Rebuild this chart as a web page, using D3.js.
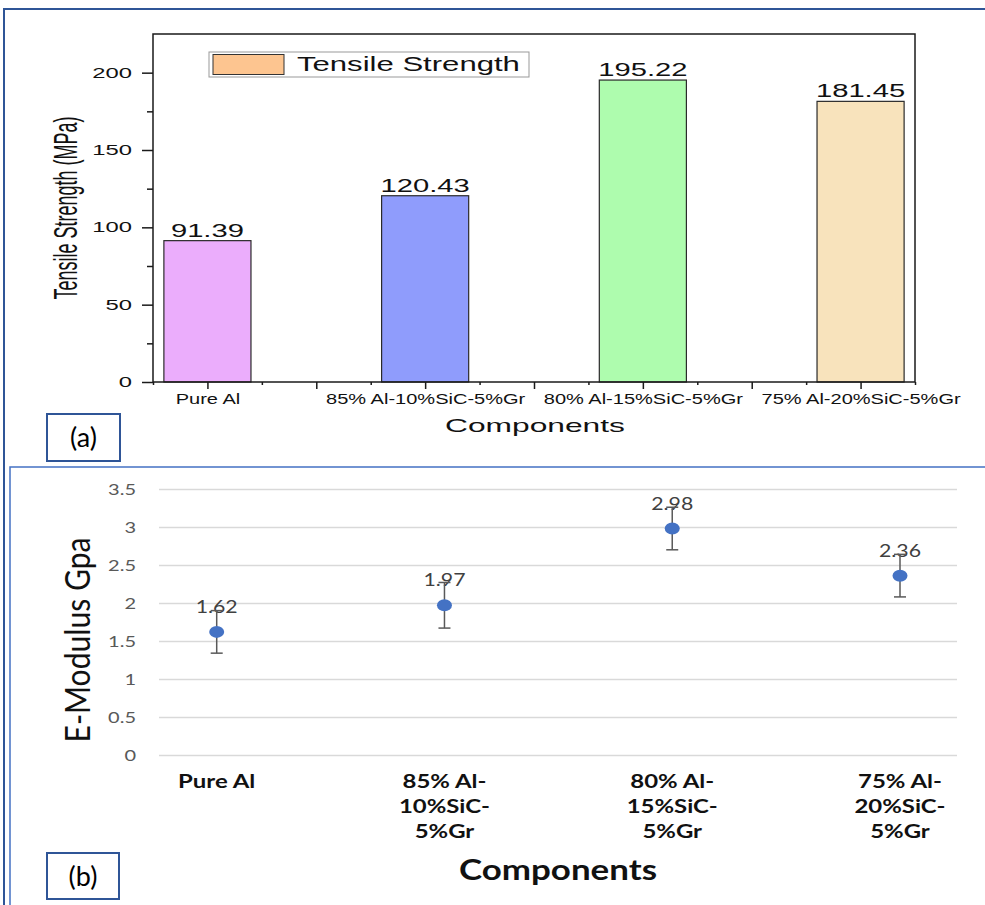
<!DOCTYPE html>
<html>
<head>
<meta charset="utf-8">
<script src="https://cdn.jsdelivr.net/npm/d3@7"></script>
<style>
  body { margin: 0; background: #fff; }
  .pa text { font-family: "Liberation Sans", Arial, sans-serif; fill: #111; }
  .pb text { font-family: Lato, "Open Sans", sans-serif; }
</style>
</head>
<body>
<svg id="chart" width="985" height="905"></svg>
<script>
// ---- data ----
var components = ["Pure Al", "85% Al-10%SiC-5%Gr", "80% Al-15%SiC-5%Gr", "75% Al-20%SiC-5%Gr"];
var tensile = [91.39, 120.43, 195.22, 181.45];
var barColors = ["#ebadfc", "#8f9cfc", "#aefcae", "#f8e3bc"];
var tensileTicks = [0, 50, 100, 150, 200];
var tensileMinor = [25, 75, 125, 175];

var modulus = [1.62, 1.97, 2.98, 2.36];
var modulusErr = [0.28, 0.30, 0.28, 0.28];
var modulusTicks = [0, 0.5, 1, 1.5, 2, 2.5, 3, 3.5];
var modulusLabels = [["Pure Al"], ["85% Al-", "10%SiC-", "5%Gr"], ["80% Al-", "15%SiC-", "5%Gr"], ["75% Al-", "20%SiC-", "5%Gr"]];

var svg = d3.select("#chart");

// the source figure is stretched sideways, so widen text to match
function stretch(sel, k) {
  sel.each(function() {
    var w = this.getComputedTextLength();
    d3.select(this).attr("textLength", w * k).attr("lengthAdjust", "spacingAndGlyphs");
  });
}

// ---- outer frames ----
svg.append("path").attr("d", "M4,905V9H985")
  .attr("fill", "none").attr("stroke", "#2f5597").attr("stroke-width", 2);
svg.append("path").attr("d", "M10,905V467H985")
  .attr("fill", "none").attr("stroke", "#4472c4").attr("stroke-width", 1.5);

// ****************** (a) tensile strength bars ******************
var pa = svg.append("g").attr("class", "pa");
var x = d3.scaleLinear().domain([-0.25, 3.25]).range([153, 915]);
var y = d3.scaleLinear().domain([0, 225]).range([382, 34]);

pa.selectAll("rect.bar")
  .data(tensile)
  .enter().append("rect")
    .attr("class", "bar")
    .attr("x", function(d, i) { return x(i - 0.2); })
    .attr("width", x(0.4) - x(0))
    .attr("y", function(d) { return y(d); })
    .attr("height", function(d) { return y(0) - y(d); })
    .attr("fill", function(d, i) { return barColors[i]; })
    .attr("stroke", "#2a2a2a").attr("stroke-width", 1.2);

pa.selectAll("text.val")
  .data(tensile)
  .enter().append("text")
    .attr("class", "val")
    .attr("x", function(d, i) { return x(i); })
    .attr("y", function(d) { return y(d) - 4; })
    .attr("text-anchor", "middle")
    .style("font-size", "18px")
    .text(function(d) { return d.toFixed(2); })
    .call(stretch, 1.62);

// frame
pa.append("rect")
  .attr("x", x(-0.25)).attr("y", y(225))
  .attr("width", x(3.25) - x(-0.25)).attr("height", y(0) - y(225))
  .attr("fill", "none").attr("stroke", "#1a1a1a").attr("stroke-width", 1.5);

// y axis
var yAxis = pa.append("g")
  .attr("transform", "translate(" + x(-0.25) + ",0)")
  .call(d3.axisLeft(y).tickValues(tensileTicks).tickSize(11).tickPadding(10));
yAxis.select(".domain").remove();
yAxis.selectAll("line").attr("stroke", "#1a1a1a").attr("stroke-width", 1.5);
yAxis.selectAll("text").style("font-size", "14px").attr("fill", "#111").call(stretch, 1.7);

var yMinor = pa.append("g")
  .attr("transform", "translate(" + x(-0.25) + ",0)")
  .call(d3.axisLeft(y).tickValues(tensileMinor).tickSize(6).tickFormat(""));
yMinor.select(".domain").remove();
yMinor.selectAll("line").attr("stroke", "#1a1a1a").attr("stroke-width", 1.5);

// x axis
var xAxis = pa.append("g")
  .attr("transform", "translate(0," + y(0) + ")")
  .call(d3.axisBottom(x).tickValues([0, 0.5, 1, 1.5, 2, 2.5, 3]).tickSize(7).tickPadding(5)
    .tickFormat(function(d) { return Number.isInteger(d) ? components[d] : ""; }));
xAxis.select(".domain").remove();
xAxis.selectAll("line").attr("stroke", "#1a1a1a").attr("stroke-width", 1.5);
xAxis.selectAll("text").style("font-size", "14px").attr("fill", "#111")
  .filter(function() { return this.textContent !== ""; }).call(stretch, 1.43);

var xMinor = pa.append("g")
  .attr("transform", "translate(0," + y(0) + ")")
  .call(d3.axisBottom(x).tickValues([-0.25, 0.25, 0.75, 1.25, 1.75, 2.25, 2.75, 3.25]).tickSize(3).tickFormat(""));
xMinor.select(".domain").remove();
xMinor.selectAll("line").attr("stroke", "#1a1a1a").attr("stroke-width", 1.5);

// titles
pa.append("text")
  .attr("x", 535).attr("y", 432)
  .attr("text-anchor", "middle")
  .style("font-size", "19px")
  .text("Components")
  .call(stretch, 1.67);

pa.append("text")
  .attr("transform", "translate(77,208) scale(1.65,1) rotate(-90)")
  .attr("text-anchor", "middle")
  .style("font-size", "20px")
  .attr("textLength", 183).attr("lengthAdjust", "spacingAndGlyphs")
  .text("Tensile Strength (MPa)");

// legend
var legend = pa.append("g");
legend.append("rect").attr("x", 209).attr("y", 52).attr("width", 320).attr("height", 25)
  .attr("fill", "#fff").attr("stroke", "#999").attr("stroke-width", 1);
legend.append("rect").attr("x", 213).attr("y", 54.5).attr("width", 71).attr("height", 20)
  .attr("fill", "#fdc590").attr("stroke", "#333").attr("stroke-width", 1);
legend.append("text").attr("x", 297).attr("y", 71)
  .style("font-size", "21px")
  .text("Tensile Strength")
  .call(stretch, 1.48);

// (a) tag
svg.append("rect").attr("x", 47).attr("y", 414).attr("width", 73).attr("height", 47)
  .attr("fill", "#fff").attr("stroke", "#2f5597").attr("stroke-width", 2);
svg.append("text").attr("x", 83.5).attr("y", 447).attr("text-anchor", "middle")
  .style("font-family", "Lato, sans-serif").style("font-size", "27px").text("(a)");

// ****************** (b) E-modulus points ******************
var pb = svg.append("g").attr("class", "pb");
var x2 = d3.scalePoint().domain(components).range([216.7, 900]);
var y2 = d3.scaleLinear().domain([0, 3.5]).range([755, 489]);
var gridLeft = 159, gridRight = 957;

var grid = pb.append("g")
  .attr("transform", "translate(" + gridLeft + ",0)")
  .call(d3.axisLeft(y2).tickValues(modulusTicks).tickSize(-(gridRight - gridLeft)).tickPadding(23)
    .tickFormat(d3.format("~g")));
grid.select(".domain").remove();
grid.selectAll("line").attr("stroke", "#d9d9d9").attr("stroke-width", 1.3);
grid.selectAll("text").style("font-size", "16px").attr("fill", "#595959").call(stretch, 1.25);

// data labels (drawn under the error bars as in the source)
pb.selectAll("text.val")
  .data(modulus)
  .enter().append("text")
    .attr("class", "val")
    .attr("x", function(d, i) { return x2(components[i]); })
    .attr("y", function(d) { return y2(d) - 19; })
    .attr("text-anchor", "middle")
    .attr("fill", "#404040")
    .style("font-size", "17px")
    .text(function(d) { return d.toFixed(2); })
    .call(stretch, 1.25);

var err = pb.selectAll("g.err")
  .data(modulus)
  .enter().append("g")
    .attr("class", "err")
    .attr("stroke", "#595959").attr("stroke-width", 1.5);
err.append("line")
  .attr("x1", function(d, i) { return x2(components[i]); })
  .attr("x2", function(d, i) { return x2(components[i]); })
  .attr("y1", function(d, i) { return y2(d - modulusErr[i]); })
  .attr("y2", function(d, i) { return y2(d + modulusErr[i]); });
[-1, 1].forEach(function(s) {
  err.append("line")
    .attr("x1", function(d, i) { return x2(components[i]) - 6; })
    .attr("x2", function(d, i) { return x2(components[i]) + 6; })
    .attr("y1", function(d, i) { return y2(d + s * modulusErr[i]); })
    .attr("y2", function(d, i) { return y2(d + s * modulusErr[i]); });
});

pb.selectAll("ellipse")
  .data(modulus)
  .enter().append("ellipse")
    .attr("cx", function(d, i) { return x2(components[i]); })
    .attr("cy", function(d) { return y2(d); })
    .attr("rx", 7.5).attr("ry", 6)
    .attr("fill", "#4472c4");

// category labels, wrapped like Excel does
var cat = pb.selectAll("text.cat")
  .data(modulusLabels)
  .enter().append("text")
    .attr("class", "cat")
    .attr("text-anchor", "middle")
    .style("font-size", "18px").style("font-weight", "bold")
    .attr("fill", "#111");
cat.selectAll("tspan")
  .data(function(d, i) { return d.map(function(t) { return {t: t, i: i}; }); })
  .enter().append("tspan")
    .attr("x", function(d) { return x2(components[d.i]); })
    .attr("y", function(d, j) { return 788 + j * 25; })
    .text(function(d) { return d.t; })
    .each(function() {
      var w = this.getComputedTextLength();
      d3.select(this).attr("textLength", w * 1.33).attr("lengthAdjust", "spacingAndGlyphs");
    });

pb.append("text")
  .attr("x", 558).attr("y", 880)
  .attr("text-anchor", "middle")
  .style("font-size", "28px").style("font-weight", "bold")
  .attr("fill", "#111")
  .attr("textLength", 198).attr("lengthAdjust", "spacingAndGlyphs")
  .text("Components");

pb.append("text")
  .attr("transform", "translate(90,640) scale(1.25,1) rotate(-90)")
  .attr("text-anchor", "middle")
  .style("font-size", "28px")
  .attr("fill", "#111")
  .attr("textLength", 205).attr("lengthAdjust", "spacingAndGlyphs")
  .text("E-Modulus Gpa");

// (b) tag
svg.append("rect").attr("x", 47).attr("y", 853).attr("width", 72).attr("height", 46)
  .attr("fill", "#fff").attr("stroke", "#2f5597").attr("stroke-width", 2);
svg.append("text").attr("x", 83).attr("y", 886).attr("text-anchor", "middle")
  .style("font-family", "Lato, sans-serif").style("font-size", "27px").text("(b)");
</script>
</body>
</html>
